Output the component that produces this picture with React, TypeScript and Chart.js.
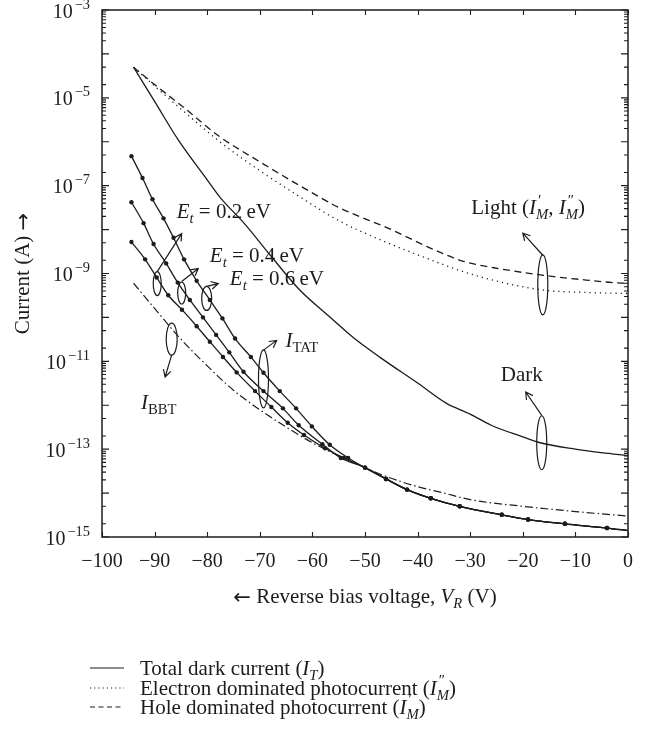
import React, { useEffect, useRef } from 'react';
import { Chart, registerables } from 'chart.js';

Chart.register(...registerables);

const FONT = "'Liberation Serif', 'Times New Roman', serif";
const ARROW_FONT = "'DejaVu Sans', sans-serif";
const INK = '#1c1c1c';
const TICK_SIZE = 20;
const TEXT_SIZE = 21;

// ---- axis ticks ----
const xTicks = [-100, -90, -80, -70, -60, -50, -40, -30, -20, -10, 0];
const yLabelExps = [-3, -5, -7, -9, -11, -13, -15];

// ---- Total dark current (solid) ----
const darkV = [-94, -90, -85.5, -80, -77.6, -73, -68, -62.4, -57, -52, -47, -40, -34.5, -30, -26, -20, -16.7, -10, -5, 0];
const darkI = [5.0e-5, 8.3e-6, 1.1e-6, 1.35e-7, 5.5e-8, 1.4e-8, 2.6e-9, 4.2e-10, 1.1e-10, 3.3e-11, 1.2e-11, 3.2e-12, 1.1e-12, 6.3e-13, 3.5e-13, 1.9e-13, 1.4e-13, 1.0e-13, 8.3e-14, 7.1e-14];

// ---- Hole dominated photocurrent I'_M (dashed) ----
const holeV = [-94, -90, -85, -77.6, -70, -62.4, -55, -45, -38, -31.3, -24, -16.1, -8, -2.8, 0];
const holeI = [5.0e-5, 2.0e-5, 6.8e-6, 1.3e-6, 3.5e-7, 1.0e-7, 3.2e-8, 1.0e-8, 4.0e-9, 1.9e-9, 1.26e-9, 9.1e-10, 7.1e-10, 6.2e-10, 6.0e-10];

// ---- Electron dominated photocurrent I''_M (dotted) ----
const elecV = [-94, -90, -85, -77.6, -70, -62.4, -55, -47, -39, -31.3, -24, -16.1, -8, 0];
const elecI = [5.0e-5, 1.86e-5, 5.6e-6, 1.0e-6, 2.2e-7, 5.6e-8, 1.6e-8, 5.8e-9, 2.4e-9, 1.1e-9, 6.3e-10, 4.2e-10, 3.7e-10, 3.5e-10];

// ---- I_TAT, Et = 0.2 / 0.4 / 0.6 eV (solid with dots) ----
const tat02V = [-94.4, -92.3, -90.4, -88.3, -86.4, -84.4, -82, -79.5, -77.1, -74.7, -71.7, -69.3, -66.2, -63.1, -60.1, -56.7, -53.2];
const tat02I = [4.7e-7, 1.5e-7, 4.9e-8, 1.8e-8, 6.5e-9, 2.1e-9, 6.8e-10, 2.5e-10, 9.5e-11, 3.3e-11, 1.26e-11, 5.5e-12, 2.1e-12, 8.5e-13, 3.3e-13, 1.26e-13, 6.3e-14];
const tat04V = [-94.4, -92.1, -90.2, -87.8, -85.6, -83.3, -80.8, -78.3, -75.8, -73.1, -69.3, -65.6, -62.6, -58.1, -54.6];
const tat04I = [4.2e-8, 1.4e-8, 4.7e-9, 1.7e-9, 6.2e-10, 2.5e-10, 1.0e-10, 4.0e-11, 1.6e-11, 5.8e-12, 2.1e-12, 8.5e-13, 3.5e-13, 1.3e-13, 6.3e-14];
const tat06V = [-94.4, -91.8, -89.6, -87.4, -84.8, -82, -79.5, -77, -74.4, -70.9, -67.8, -64.7, -61.6, -57.6, -54];
const tat06I = [5.2e-9, 2.1e-9, 8.1e-10, 3.2e-10, 1.5e-10, 6.3e-11, 2.8e-11, 1.26e-11, 5.6e-12, 2.1e-12, 9.1e-13, 4.0e-13, 2.1e-13, 1.05e-13, 6.3e-14];
// merged tail of the three TAT curves
const tailV = [-50, -46, -42, -37.5, -32, -24, -19, -12, -4, 0];
const tailI = [3.8e-14, 2.1e-14, 1.2e-14, 7.6e-15, 5.0e-15, 3.2e-15, 2.5e-15, 2.0e-15, 1.6e-15, 1.4e-15];

// ---- I_BBT (dash-dot) ----
const bbtV = [-94, -90, -85, -80, -75, -70, -65, -60, -55, -50, -46, -40, -35, -30, -20, -10, 0];
const bbtI = [6.0e-10, 1.6e-10, 3.2e-11, 7.9e-12, 2.2e-12, 7.9e-13, 3.2e-13, 1.4e-13, 7.1e-14, 3.8e-14, 2.4e-14, 1.4e-14, 1.0e-14, 7.1e-15, 5.0e-15, 3.8e-15, 3.0e-15];

// ---- annotations (data coordinates) ----
type Part = { t: string; it?: boolean; f?: string; sub?: string; subIt?: boolean; sup?: string };
const ellipses = [
  { v: -16.2, i: 5.5e-10, rx: 5, ry: 30 }, // light
  { v: -16.4, i: 1.4e-13, rx: 5, ry: 27 }, // dark
  { v: -69.3, i: 4.0e-12, rx: 5, ry: 29 }, // TAT
  { v: -86.75, i: 3.2e-11, rx: 5.5, ry: 16 }, // BBT
  { v: -89.5, i: 5.9e-10, rx: 4, ry: 12 }, // Et 0.2
  { v: -84.85, i: 3.6e-10, rx: 4, ry: 11 }, // Et 0.4
  { v: -80.1, i: 2.7e-10, rx: 5, ry: 12 }, // Et 0.6
];
const arrows = [
  { v1: -16.2, i1: 2.6e-9, v2: -20.0, i2: 8.3e-9 },
  { v1: -16.4, i1: 5.9e-13, v2: -19.45, i2: 2.0e-12 },
  { v1: -69.3, i1: 1.8e-11, v2: -66.8, i2: 3.0e-11 },
  { v1: -86.75, i1: 1.4e-11, v2: -88.0, i2: 4.4e-12 },
  { v1: -89.5, i1: 1.1e-9, v2: -84.85, i2: 8.1e-9 },
  { v1: -84.85, i1: 6.6e-10, v2: -81.7, i2: 1.3e-9 },
  { v1: -80.1, i1: 5.1e-10, v2: -77.9, i2: 5.9e-10 },
];
const labels: { v: number; i: number; align: 'left' | 'center'; parts: Part[] }[] = [
  { v: -19.0, i: 3.2e-8, align: 'center', parts: [{ t: 'Light (' }, { t: 'I', it: true, sub: 'M', subIt: true, sup: '′' }, { t: ', ' }, { t: 'I', it: true, sub: 'M', subIt: true, sup: '″' }, { t: ')' }] },
  { v: -20.2, i: 5.0e-12, align: 'center', parts: [{ t: 'Dark' }] },
  { v: -62.0, i: 3.0e-11, align: 'center', parts: [{ t: 'I', it: true, sub: 'TAT' }] },
  { v: -89.2, i: 1.2e-12, align: 'center', parts: [{ t: 'I', it: true, sub: 'BBT' }] },
  { v: -85.8, i: 2.6e-8, align: 'left', parts: [{ t: 'E', it: true, sub: 't', subIt: true }, { t: ' = 0.2\u2009eV' }] },
  { v: -79.5, i: 2.6e-9, align: 'left', parts: [{ t: 'E', it: true, sub: 't', subIt: true }, { t: ' = 0.4\u2009eV' }] },
  { v: -75.7, i: 7.9e-10, align: 'left', parts: [{ t: 'E', it: true, sub: 't', subIt: true }, { t: ' = 0.6\u2009eV' }] },
];
const legendItems: { dash: number[]; parts: Part[] }[] = [
  { dash: [], parts: [{ t: 'Total dark current (' }, { t: 'I', it: true, sub: 'T', subIt: true }, { t: ')' }] },
  { dash: [1.2, 3], parts: [{ t: 'Electron dominated photocurrent (' }, { t: 'I', it: true, sub: 'M', subIt: true, sup: '″' }, { t: ')' }] },
  { dash: [5, 3.5], parts: [{ t: 'Hole dominated photocurrent (' }, { t: 'I', it: true, sub: 'M', subIt: true, sup: '′' }, { t: ')' }] },
];
const xTitle: Part[] = [{ t: '←', f: ARROW_FONT }, { t: ' Reverse bias voltage, ' }, { t: 'V', it: true, sub: 'R', subIt: true }, { t: ' (V)' }];
const yTitle: Part[] = [{ t: 'Current (A) ' }, { t: '→', f: ARROW_FONT }];

function fontStr(size: number, italic?: boolean, family?: string) {
  return `${italic ? 'italic ' : ''}${size}px ${family || FONT}`;
}
function partsWidth(ctx: CanvasRenderingContext2D, parts: Part[], size: number) {
  let w = 0;
  for (const p of parts) {
    ctx.font = fontStr(size, p.it, p.f);
    w += ctx.measureText(p.t).width;
    let sw = 0;
    if (p.sub) { ctx.font = fontStr(size * 0.7, p.subIt); sw = Math.max(sw, ctx.measureText(p.sub).width); }
    if (p.sup) { ctx.font = fontStr(size * 0.72); sw = Math.max(sw, ctx.measureText(p.sup).width + 2); }
    w += sw;
  }
  return w;
}
function drawParts(ctx: CanvasRenderingContext2D, parts: Part[], x: number, cy: number, size: number, align: string) {
  const w = partsWidth(ctx, parts, size);
  let cx = align === 'left' ? x : align === 'center' ? x - w / 2 : x - w;
  const base = cy + size * 0.33;
  ctx.textAlign = 'left';
  ctx.textBaseline = 'alphabetic';
  for (const p of parts) {
    ctx.font = fontStr(size, p.it, p.f);
    ctx.fillText(p.t, cx, p.f ? base + size * 0.04 : base);
    cx += ctx.measureText(p.t).width;
    let sw = 0;
    if (p.sub) {
      ctx.font = fontStr(size * 0.7, p.subIt);
      ctx.fillText(p.sub, cx, base + size * 0.24);
      sw = Math.max(sw, ctx.measureText(p.sub).width);
    }
    if (p.sup) {
      ctx.font = fontStr(size * 0.72);
      ctx.fillText(p.sup, cx + 2, base - size * 0.45);
      sw = Math.max(sw, ctx.measureText(p.sup).width + 2);
    }
    cx += sw;
  }
}
function drawArrow(ctx: CanvasRenderingContext2D, x1: number, y1: number, x2: number, y2: number) {
  ctx.beginPath();
  ctx.moveTo(x1, y1);
  ctx.lineTo(x2, y2);
  const a = Math.atan2(y2 - y1, x2 - x1);
  const L = 8;
  const s = 0.5;
  ctx.moveTo(x2 - L * Math.cos(a - s), y2 - L * Math.sin(a - s));
  ctx.lineTo(x2, y2);
  ctx.lineTo(x2 - L * Math.cos(a + s), y2 - L * Math.sin(a + s));
  ctx.stroke();
}

const overlayPlugin = {
  id: 'overlay',
  afterDraw(chart: any) {
    const ctx: CanvasRenderingContext2D = chart.ctx;
    const sx = chart.scales.x;
    const sy = chart.scales.y;
    const X = (v: number) => sx.getPixelForValue(v);
    const Y = (v: number) => sy.getPixelForValue(v);
    const { left, right, top, bottom } = chart.chartArea;
    ctx.save();
    ctx.strokeStyle = INK;
    ctx.fillStyle = INK;
    ctx.setLineDash([]);

    // frame
    ctx.lineWidth = 1.5;
    ctx.strokeRect(left, top, right - left, bottom - top);

    // x ticks (inward, top and bottom)
    ctx.lineWidth = 1.1;
    ctx.beginPath();
    for (const v of xTicks) {
      const px = Math.round(X(v)) + 0.5;
      ctx.moveTo(px, bottom); ctx.lineTo(px, bottom - 5);
      ctx.moveTo(px, top); ctx.lineTo(px, top + 5);
    }
    // y ticks (inward, left and right)
    for (let e = -15; e <= -3; e++) {
      const py = Y(Math.pow(10, e));
      ctx.moveTo(left, py); ctx.lineTo(left + 7, py);
      ctx.moveTo(right, py); ctx.lineTo(right - 7, py);
      if (e === -3) continue;
      const ks = e % 2 === 0 ? [2, 3, 4, 5, 6, 7, 8, 9] : [2, 5];
      for (const k of ks) {
        const my = Y(k * Math.pow(10, e));
        ctx.moveTo(left, my); ctx.lineTo(left + 4, my);
        ctx.moveTo(right, my); ctx.lineTo(right - 4, my);
      }
    }
    ctx.stroke();

    // y tick labels 10^n
    for (const e of yLabelExps) {
      const py = Y(Math.pow(10, e));
      drawParts(ctx, [{ t: '10', sup: '−' + Math.abs(e) }], left - 12, py + 1, TICK_SIZE, 'right');
    }

    // y title
    ctx.save();
    ctx.translate(22, (top + bottom) / 2);
    ctx.rotate(-Math.PI / 2);
    drawParts(ctx, yTitle, 0, 0, TEXT_SIZE, 'center');
    ctx.restore();

    // x title
    drawParts(ctx, xTitle, (left + right) / 2, bottom + 59, TEXT_SIZE, 'center');

    // annotations
    ctx.lineWidth = 1.2;
    for (const el of ellipses) {
      ctx.beginPath();
      ctx.ellipse(X(el.v), Y(el.i), el.rx, el.ry, 0, 0, Math.PI * 2);
      ctx.stroke();
    }
    for (const ar of arrows) drawArrow(ctx, X(ar.v1), Y(ar.i1), X(ar.v2), Y(ar.i2));
    for (const lb of labels) drawParts(ctx, lb.parts, X(lb.v), Y(lb.i), TEXT_SIZE, lb.align);

    // legend
    const rows = [668, 688, 707];
    legendItems.forEach((it, idx) => {
      const y = rows[idx];
      ctx.lineWidth = 1.2;
      ctx.setLineDash(it.dash);
      ctx.beginPath();
      ctx.moveTo(90, y); ctx.lineTo(124, y);
      ctx.stroke();
      ctx.setLineDash([]);
      drawParts(ctx, it.parts, 140, y, TEXT_SIZE, 'left');
    });
    ctx.restore();
  },
};

function pts(vs: number[], is: number[]) {
  return vs.map((v, k) => ({ x: v, y: is[k] }));
}

export default function App() {
  const ref = useRef<HTMLCanvasElement | null>(null);
  useEffect(() => {
    if (!ref.current) return;
    Chart.defaults.font.family = FONT;
    const tatSet = (vs: number[], is: number[], label: string) => {
      const data = pts(vs.concat(tailV), is.concat(tailI));
      return {
        label,
        data,
        borderColor: INK,
        backgroundColor: INK,
        borderWidth: 1.3,
        pointRadius: data.map((_, k) => (k === data.length - 1 ? 0 : 2.2)),
        pointBackgroundColor: INK,
        pointBorderWidth: 0,
        cubicInterpolationMode: 'monotone' as const,
      };
    };
    const chart = new Chart(ref.current, {
      type: 'line',
      data: {
        datasets: [
          { label: 'Total dark current', data: pts(darkV, darkI), borderColor: INK, borderWidth: 1.3, pointRadius: 0, cubicInterpolationMode: 'monotone' },
          { label: 'Electron dominated photocurrent', data: pts(elecV, elecI), borderColor: INK, borderWidth: 1.3, borderDash: [1.2, 4], pointRadius: 0, cubicInterpolationMode: 'monotone' },
          { label: 'Hole dominated photocurrent', data: pts(holeV, holeI), borderColor: INK, borderWidth: 1.3, borderDash: [7, 4.5], pointRadius: 0, cubicInterpolationMode: 'monotone' },
          tatSet(tat02V, tat02I, 'TAT Et=0.2 eV'),
          tatSet(tat04V, tat04I, 'TAT Et=0.4 eV'),
          tatSet(tat06V, tat06I, 'TAT Et=0.6 eV'),
          { label: 'BBT', data: pts(bbtV, bbtI), borderColor: INK, borderWidth: 1.2, borderDash: [8, 3, 1.5, 3], pointRadius: 0, cubicInterpolationMode: 'monotone' },
        ] as any,
      },
      options: {
        animation: false,
        responsive: false,
        devicePixelRatio: 1,
        layout: { padding: { top: 10, right: 19, left: 0, bottom: 0 } },
        plugins: { legend: { display: false }, tooltip: { enabled: false } },
        scales: {
          x: {
            type: 'linear',
            min: -100,
            max: 0,
            grid: { display: false },
            border: { display: false },
            ticks: {
              stepSize: 10,
              color: INK,
              padding: 5,
              maxRotation: 0,
              font: { family: FONT, size: TICK_SIZE },
              callback: (v: any) => (Number(v) < 0 ? '−' + Math.abs(Number(v)) : String(v)),
            },
            afterFit: (s: any) => { s.height = 194; },
          },
          y: {
            type: 'logarithmic',
            min: 1e-15,
            max: 1e-3,
            grid: { display: false },
            border: { display: false },
            ticks: { display: false },
            afterFit: (s: any) => { s.width = 102; },
          },
        },
      } as any,
      plugins: [overlayPlugin],
    });
    return () => chart.destroy();
  }, []);
  return (
    <div style={{ position: 'absolute', left: 0, top: 0, width: 647, height: 731, background: '#fff' }}>
      <canvas ref={ref} width={647} height={731} style={{ display: 'block' }} />
    </div>
  );
}
